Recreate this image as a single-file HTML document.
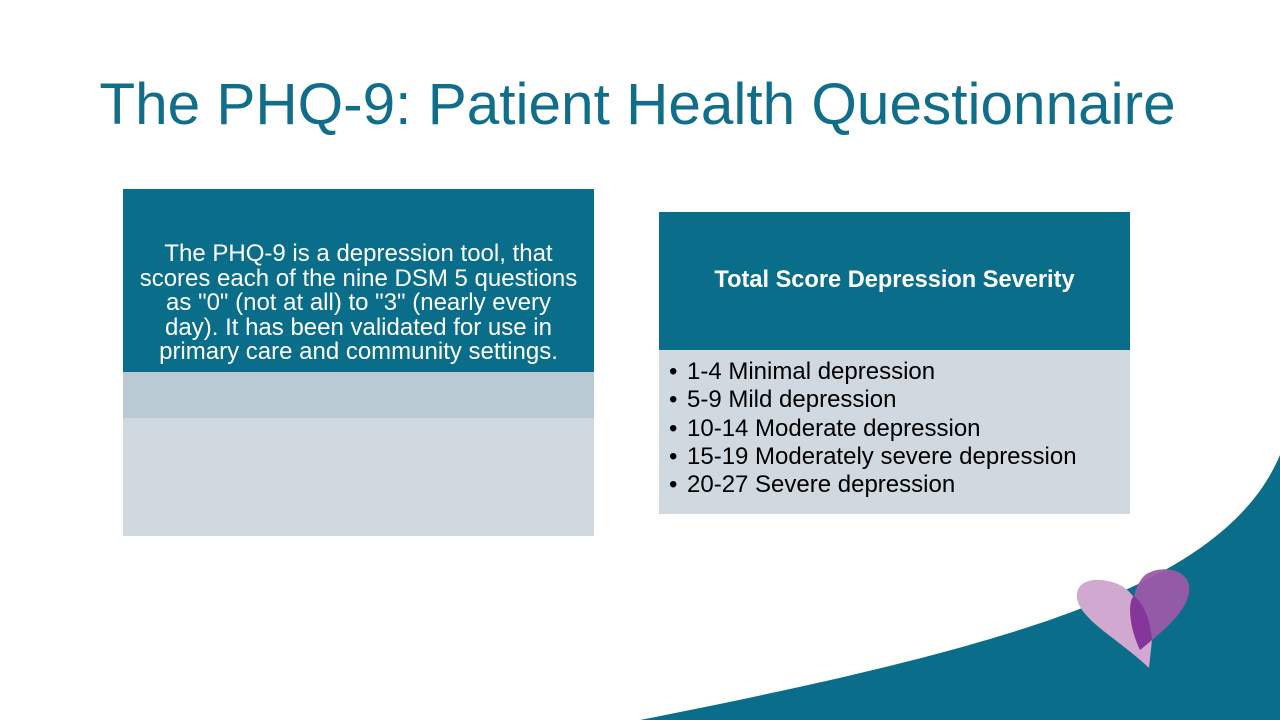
<!DOCTYPE html>
<html><head><meta charset="utf-8"><style>
body{margin:0;width:1280px;height:720px;overflow:hidden;background:#fff;font-family:"Liberation Sans",sans-serif;position:relative}
.abs{position:absolute}
#title{left:0;width:1275px;top:70px;text-align:center;font-size:58.5px;color:#116e8a;line-height:70px;white-space:nowrap}
#lt{left:123px;top:189px;width:471px;height:183px;background:#0a6d8a;color:#fff;font-size:24px;line-height:24.6px;text-align:center;box-sizing:border-box;padding:53px 0 0;white-space:nowrap}
#lm{left:123px;top:372px;width:471px;height:46px;background:#b9cad3}
#lb{left:123px;top:418px;width:471px;height:118px;background:#d0d9df}
#rt{left:659px;top:212px;width:471px;height:138px;background:#0a6d8a;color:#fff;font-size:23.6px;font-weight:bold;text-align:center;line-height:136px;white-space:nowrap}
#rb{left:659px;top:350px;width:471px;height:164px;background:#d0d9df;box-sizing:border-box;padding:8px 0 0 10px;font-size:24px;line-height:28.3px;color:#000;white-space:nowrap}
#rb div span{display:inline-block;width:18px}
</style></head><body>
<svg class="abs" style="left:0;top:0" width="1280" height="720">
<path d="M1280,455 C1225,585 1020,645 640,720 L1280,720 Z" fill="#0a6d8a"/>
<g>
<path d="M1149,668 C1120,640 1080,620 1077,598 C1075,578 1100,576 1120,585 C1135,592 1150,620 1152,640 Z" fill="#d0a8d0"/>
<path d="M1140,650 C1128,620 1130,590 1145,575 C1160,565 1185,568 1189,585 C1192,605 1170,625 1152,640 Z" fill="#9b5ba8" opacity="0.95"/>
<path d="M1140,650 C1128,625 1128,600 1134,596 C1145,605 1150,620 1152,640 Z" fill="#86369a"/>
</g>
</svg>
<div id="title" class="abs">The PHQ-9: Patient Health Questionnaire</div>
<div id="lt" class="abs">The PHQ-9 is a depression tool, that<br>scores each of the nine DSM 5 questions<br>as "0" (not at all) to "3" (nearly every<br>day). It has been validated for use in<br>primary care and community settings.</div>
<div id="lm" class="abs"></div>
<div id="lb" class="abs"></div>
<div id="rt" class="abs">Total Score Depression Severity</div>
<div id="rb" class="abs">
<div><span>•</span>1-4 Minimal depression</div>
<div><span>•</span>5-9 Mild depression</div>
<div><span>•</span>10-14 Moderate depression</div>
<div><span>•</span>15-19 Moderately severe depression</div>
<div><span>•</span>20-27 Severe depression</div>
</div>
</body></html>
